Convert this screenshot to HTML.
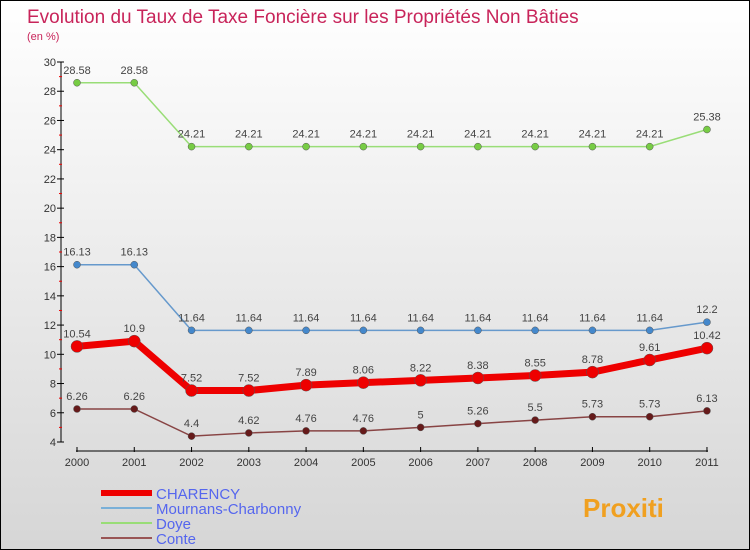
<!DOCTYPE html>
<html><head><meta charset="utf-8"><style>
body{margin:0}
#c{width:750px;height:550px;position:relative;overflow:hidden;box-sizing:border-box;border:1px solid #000;background:linear-gradient(#fff,#d6d6d6);font-family:"Liberation Sans",sans-serif}
</style></head><body>
<div id="c">
<svg id="s" width="750" height="550" style="position:absolute;left:0;top:0">
<text x="26" y="22" font-size="19" fill="#c8245a">Evolution du Taux de Taxe Foncière sur les Propriétés Non Bâties</text>
<text x="26" y="39" font-size="11" fill="#c8245a">(en %)</text>
</svg>
</div>
<script>
const years=[2000,2001,2002,2003,2004,2005,2006,2007,2008,2009,2010,2011];
const charency=[10.54,10.9,7.52,7.52,7.89,8.06,8.22,8.38,8.55,8.78,9.61,10.42];
const mournans=[16.13,16.13,11.64,11.64,11.64,11.64,11.64,11.64,11.64,11.64,11.64,12.2];
const doye=[28.58,28.58,24.21,24.21,24.21,24.21,24.21,24.21,24.21,24.21,24.21,25.38];
const conte=[6.26,6.26,4.4,4.62,4.76,4.76,5,5.26,5.5,5.73,5.73,6.13];
const yTicks=[4,6,8,10,12,14,16,18,20,22,24,26,28,30];
const NS="http://www.w3.org/2000/svg",s=document.getElementById('s');
const X=i=>76+i*57.27, Y=v=>441-(v-4)*380/26;
function el(t,a,p){const e=document.createElementNS(NS,t);for(const k in a)e.setAttribute(k,a[k]);(p||s).appendChild(e);return e;}
let ax=el('line',{x1:60,y1:61,x2:60,y2:441,stroke:'#000'});


yTicks.forEach(v=>{el('line',{x1:56,x2:63,y1:Y(v),y2:Y(v),stroke:'#000'});
 if(v<30)el('line',{x1:58,x2:61,y1:Y(v+1),y2:Y(v+1),stroke:'#e00'});
 const t=el('text',{x:55,y:Y(v)+4,'font-size':11,fill:'#333','text-anchor':'end'});t.textContent=v;
 
 });
let xa=el('line',{x1:75,y1:450,x2:707,y2:450,stroke:'#000'});


years.forEach((y,i)=>{el('line',{x1:X(i),x2:X(i),y1:446,y2:451,stroke:'#000'});
 const t=el('text',{x:X(i),y:465,'font-size':11,fill:'#333','text-anchor':'middle'});t.textContent=y;
 
 });
function series(d,col,w,r,name,dot){
 const g=el('g',{});
 
 
 el('polyline',{points:d.map((v,i)=>X(i)+','+Y(v)).join(' '),fill:'none',stroke:col,'stroke-width':w},g);
 d.forEach((v,i)=>{el('circle',{cx:X(i),cy:Y(v),r:r,fill:dot,stroke:'#555','stroke-width':0.5},g);
  const t=el('text',{x:X(i),y:Y(v)-9,'font-size':11,fill:'#444','text-anchor':'middle'},g);t.textContent=v;});
}
series(doye,'#99dd77',1.5,3.5,'series-doye','#77cc44');
series(mournans,'#6699cc',1.5,3.5,'series-mournans','#4488cc');
series(conte,'#884444',1.5,3.5,'series-conte','#661a1a');
series(charency,'#ee0000',7,6,'series-charency','#ee0000');
const leg=[['CHARENCY','#ee0000',6],['Mournans-Charbonny','#7ab0d8',2],['Doye','#99dd77',2],['Conte','#995555',2]];
leg.forEach((l,i)=>{const g=el('g',{});
 
 
 const y=492+i*15;
 el('line',{x1:100,x2:151,y1:y,y2:y,stroke:l[1],'stroke-width':l[2]},g);
 const t=el('text',{x:155,y:y+6,'font-size':15,fill:'#5566ee'},g);t.textContent=l[0];});
const lg=el('text',{x:582,y:516,'font-size':26,'font-weight':'bold',fill:'#f0a020'});
lg.textContent='Proxiti';


</script>
</body></html>
